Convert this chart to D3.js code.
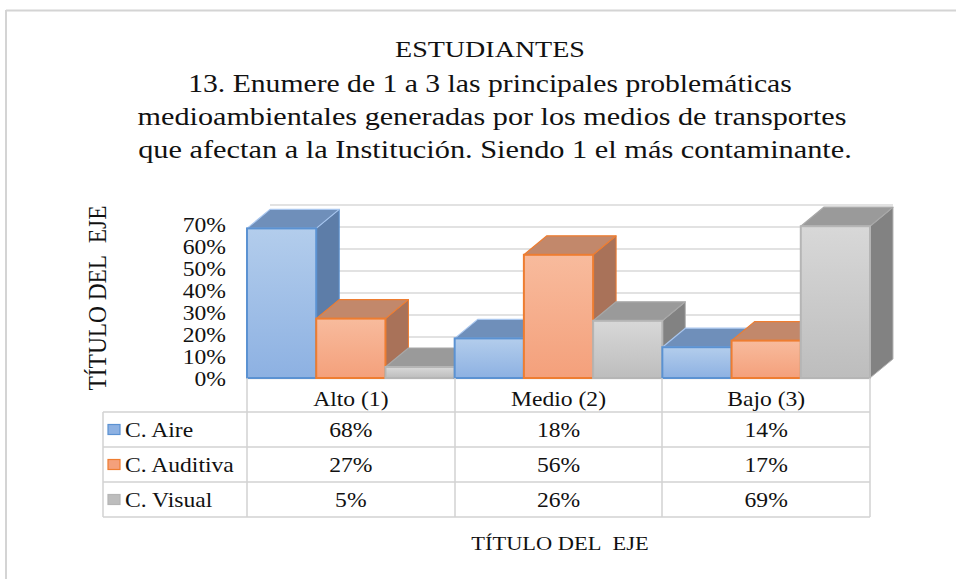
<!DOCTYPE html>
<html><head><meta charset="utf-8">
<script src="https://cdn.jsdelivr.net/npm/d3@7/dist/d3.min.js"></script>
<style>
html,body{margin:0;padding:0;background:#fff;}
svg{display:block;}
</style></head>
<body>
<svg id="c" width="956" height="579"></svg>
<script>
const titleLines = ["ESTUDIANTES",
  "13. Enumere de 1 a 3 las principales problemáticas",
  "medioambientales generadas por los medios de transportes",
  "que afectan a la Institución. Siendo 1 el más contaminante."];
const categories = ["Alto (1)", "Medio (2)", "Bajo (3)"];
const seriesNames = ["C. Aire", "C. Auditiva", "C. Visual"];
const aire = [0.68, 0.18, 0.14];
const auditiva = [0.27, 0.56, 0.17];
const visual = [0.05, 0.26, 0.69];
const yTicks = [0, 0.1, 0.2, 0.3, 0.4, 0.5, 0.6, 0.7];
const tableLabels = [["68%", "18%", "14%"], ["27%", "56%", "17%"], ["5%", "26%", "69%"]];
const axisTitle = "TÍTULO DEL\u00A0 EJE";

const FONT = "'Liberation Serif', 'Times New Roman', serif";
const INK = "#111111";
const seriesValues = [aire, auditiva, visual];
const styles = [
  {g0:"#b3cdec", g1:"#8db1e2", top:"#6f8fba", side:"#5d7da8", stroke:"#5b92d2", edge:"#a9c6ee"},
  {g0:"#f8bb9d", g1:"#f4a07b", top:"#c2886b", side:"#a97259", stroke:"#ee7d31", edge:"#ee7d31"},
  {g0:"#d8d8d8", g1:"#bdbdbd", top:"#9a9a9a", side:"#828282", stroke:"#b5b5b5", edge:"#a8a8a8"}
];

const svg = d3.select("#c");
const SX = 1.18;
function ink(t) {
  return t.attr("font-family", FONT).attr("fill", INK);
}
function txt(x, y, s, size, anchor, sx) {
  return ink(svg.append("text")
    .attr("transform", `translate(${x},${y}) scale(${sx||SX},1)`)
    .attr("text-anchor", anchor || "middle")
    .attr("font-size", size)
    .text(s));
}
function fitTxt(x, y, s, size, width) {
  const t = txt(x, y, s, size, "middle", 1);
  const L = t.node().getComputedTextLength();
  t.attr("transform", `translate(${x},${y}) scale(${width / L},1)`);
  return t;
}

// outer frame
svg.append("line").attr("x1",6).attr("x2",956).attr("y1",10.5).attr("y2",10.5).attr("stroke","#d4d4d4").attr("stroke-width",2);
svg.append("line").attr("x1",6).attr("x2",6).attr("y1",10).attr("y2",579).attr("stroke","#d4d4d4").attr("stroke-width",2);

// title
const titleY = [57, 92, 125, 158];
const titleW = [190, 604, 709, 714];
const titleX = [490, 490, 492, 495];
titleLines.forEach((t,i)=> fitTxt(titleX[i], titleY[i], t, i === 0 ? 24 : 25, titleW[i]));

// scales
const x = d3.scaleBand().domain(categories).range([247, 870]).paddingInner(0).paddingOuter(0);
const xs = d3.scaleBand().domain(seriesNames).range([0, x.bandwidth()]).padding(0);
const y = d3.scaleLinear().domain([0, 0.7]).range([378, 224]);
const DX = 23, DY = -19;

// back wall gridlines
const grid = svg.append("g");
yTicks.forEach(v=>{
  grid.append("line").attr("x1", 247+DX).attr("x2", 870+DX)
    .attr("y1", y(v)+DY).attr("y2", y(v)+DY)
    .attr("stroke","#d9d9d9").attr("stroke-width",1.6);
});
svg.append("line").attr("x1",247).attr("x2",870).attr("y1",378.5).attr("y2",378.5).attr("stroke","#d9d9d9").attr("stroke-width",1.5);

// gradients
const defs = svg.append("defs");
styles.forEach((s,i)=>{
  const lg = defs.append("linearGradient").attr("id","g"+i).attr("x1",0).attr("x2",0).attr("y1",0).attr("y2",1);
  lg.append("stop").attr("offset","0%").attr("stop-color",s.g0);
  lg.append("stop").attr("offset","100%").attr("stop-color",s.g1);
});

// bars (left to right)
const bars = [];
categories.forEach((c,ci)=>{
  seriesNames.forEach((sn,si)=>{
    bars.push({c, sn, si, v: seriesValues[si][ci]});
  });
});
const bg = svg.append("g");
bars.forEach(b=>{
  const s = styles[b.si];
  const x0 = x(b.c) + xs(b.sn), x1 = x0 + xs.bandwidth();
  const yt = y(b.v), yb = y(0);
  const g = bg.append("g");
  g.append("path").attr("d", `M${x1},${yt}L${x1+DX},${yt+DY}L${x1+DX},${yb+DY}L${x1},${yb}Z`)
    .attr("fill", s.side).attr("stroke", s.stroke).attr("stroke-width",1).attr("stroke-linejoin","round");
  g.append("path").attr("d", `M${x0},${yt}L${x0+DX},${yt+DY}L${x1+DX},${yt+DY}L${x1},${yt}Z`)
    .attr("fill", s.top).attr("stroke", s.edge).attr("stroke-width",1.2).attr("stroke-linejoin","round");
  g.append("rect").attr("x", x0).attr("y", yt).attr("width", x1-x0).attr("height", yb-yt)
    .attr("fill", `url(#g${b.si})`).attr("stroke", s.stroke).attr("stroke-width",2);
});

// y axis labels
const yAxis = d3.axisLeft(y).tickValues(yTicks).tickFormat(d3.format(".0%")).tickSize(0);
const ya = svg.append("g").attr("transform","translate(226,0)").call(yAxis);
ya.attr("font-family", FONT);
ya.select(".domain").remove();
ink(ya.selectAll("text").attr("x",0).attr("dy","0.35em")
  .attr("transform",`scale(${SX},1)`)
  .attr("font-size",20));

// y axis title (rotated)
{
  const t = ink(svg.append("text").attr("text-anchor","middle").attr("font-size",21).text(axisTitle));
  const L = t.node().getComputedTextLength();
  t.attr("transform",`translate(106,298) rotate(-90) scale(${185/L},1.15)`);
}

// data table
const tc = "#d2d2d2", tw = 1.5;
const rowY = [412, 447, 482, 517];
[247, 455, 662, 870].forEach(xx=>{
  svg.append("line").attr("x1",xx).attr("x2",xx).attr("y1",378).attr("y2",517).attr("stroke",tc).attr("stroke-width",tw);
});
svg.append("line").attr("x1",103).attr("x2",103).attr("y1",412).attr("y2",517).attr("stroke",tc).attr("stroke-width",tw);
rowY.forEach(yy=>{
  svg.append("line").attr("x1",103).attr("x2",870).attr("y1",yy).attr("y2",yy).attr("stroke",tc).attr("stroke-width",tw);
});
categories.forEach(c=> txt(x(c)+x.bandwidth()/2, 406, c, 20, "middle"));
seriesNames.forEach((sn,si)=>{
  const cy = (rowY[si]+rowY[si+1])/2;
  svg.append("rect").attr("x",108).attr("y",cy-5).attr("width",12).attr("height",10)
    .attr("fill",styles[si].g1).attr("stroke",styles[si].stroke).attr("stroke-width",1.2);
  txt(125, cy+7, sn, 20, "start");
  categories.forEach((c,ci)=> txt(x(c)+x.bandwidth()/2, cy+7, tableLabels[si][ci], 20, "middle"));
});

// x axis title
txt(560, 550, axisTitle, 19, "middle");
</script>
</body></html>
